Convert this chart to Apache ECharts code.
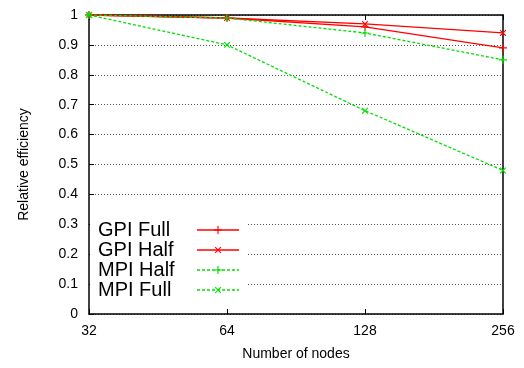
<!DOCTYPE html>
<html>
<head>
<meta charset="utf-8">
<script src="https://cdn.jsdelivr.net/npm/echarts@6/dist/echarts.min.js"></script>
<style>
  html, body { margin: 0; padding: 0; background: #fff; }
  #chart { width: 524px; height: 368px; }
</style>
</head>
<body>
<div id="chart"></div>
<script>
// Node counts (x, log2 scale) and relative efficiency per configuration
const nodes = [32, 64, 128, 256];
const gpiFull = [1.0, 0.99, 0.96, 0.89];
const gpiHalf = [1.0, 0.99, 0.97, 0.94];
const mpiHalf = [1.0, 0.99, 0.94, 0.85];
const mpiFull = [1.0, 0.90, 0.68, 0.48];
const yTicks = [0, 0.1, 0.2, 0.3, 0.4, 0.5, 0.6, 0.7, 0.8, 0.9, 1];

const FONT = '"Liberation Sans", Arial, sans-serif';
// thin cross glyph; rotated 45 degrees it becomes an "x"
const PLUS = 'path://M4.3,0H5.7V4.3H10V5.7H5.7V10H4.3V5.7H0V4.3H4.3Z';
const RED = '#ff0000';
const GREEN = '#00e000';

function pairs(vals) {
  return nodes.map((n, i) => [n, vals[i]]);
}

function lineSeries(name, vals, color, dashed, rotate) {
  return {
    name: name,
    type: 'line',
    data: pairs(vals),
    symbol: PLUS,
    symbolSize: 8,
    symbolRotate: rotate,
    showSymbol: true,
    clip: false,
    animation: false,
    itemStyle: { color: color },
    lineStyle: { color: color, width: 1.3, type: dashed ? [3, 2] : 'solid' },
    emphasis: { disabled: true }
  };
}

const chart = echarts.init(document.getElementById('chart'), null, { renderer: 'canvas' });

const axisLine = { show: true, onZero: false, lineStyle: { color: '#000', width: 1.5 } };
const tick = { show: true, inside: true, length: 5, lineStyle: { color: '#000' } };

chart.setOption({
  backgroundColor: '#fff',
  animation: false,
  grid: { left: 89, right: 21, top: 15, bottom: 54, show: false },
  legend: {
    left: 90,
    top: 218,
    orient: 'vertical',
    align: 'right',
    itemGap: 0,
    itemWidth: 42,
    itemHeight: 10,
    padding: [2, 8, 2, 8],
    backgroundColor: '#fff',
    lineStyle: { width: 1.3 },
    formatter: name => '{t|' + name + '}',
    textStyle: {
      fontFamily: FONT, fontSize: 20, color: '#000', lineHeight: 20,
      rich: { t: { fontFamily: FONT, fontSize: 20, color: '#000', width: 94, align: 'left' } }
    },
    data: ['GPI Full', 'GPI Half', 'MPI Half', 'MPI Full']
  },
  xAxis: [{
    type: 'log',
    logBase: 2,
    min: 32,
    max: 256,
    name: 'Number of nodes',
    nameLocation: 'middle',
    nameGap: 33,
    nameTextStyle: { fontFamily: FONT, fontSize: 14, color: '#000' },
    axisLine: axisLine,
    axisTick: tick,
    axisLabel: { fontFamily: FONT, fontSize: 14, color: '#000', margin: 10 },
    splitLine: { show: false }
  }, {
    type: 'log',
    logBase: 2,
    min: 32,
    max: 256,
    position: 'top',
    axisLine: axisLine,
    axisTick: tick,
    axisLabel: { show: false },
    splitLine: { show: false }
  }],
  yAxis: [{
    type: 'value',
    min: 0,
    max: 1,
    interval: 0.1,
    name: 'Relative efficiency',
    nameLocation: 'middle',
    nameGap: 58,
    nameTextStyle: { fontFamily: FONT, fontSize: 14, color: '#000' },
    axisLine: axisLine,
    axisTick: tick,
    axisLabel: {
      fontFamily: FONT, fontSize: 14, color: '#000', margin: 11,
      formatter: v => String(yTicks.find(t => Math.abs(t - v) < 1e-9) ?? v)
    },
    splitLine: { show: true, lineStyle: { color: '#555', width: 1, type: [1, 2] } }
  }, {
    type: 'value',
    min: 0,
    max: 1,
    interval: 0.1,
    position: 'right',
    axisLine: axisLine,
    axisTick: { show: false },
    axisLabel: { show: false },
    splitLine: { show: false }
  }],
  series: [
    lineSeries('GPI Full', gpiFull, RED, false, 0),
    lineSeries('GPI Half', gpiHalf, RED, false, 45),
    lineSeries('MPI Half', mpiHalf, GREEN, true, 0),
    lineSeries('MPI Full', mpiFull, GREEN, true, 45)
  ]
});
</script>
</body>
</html>
